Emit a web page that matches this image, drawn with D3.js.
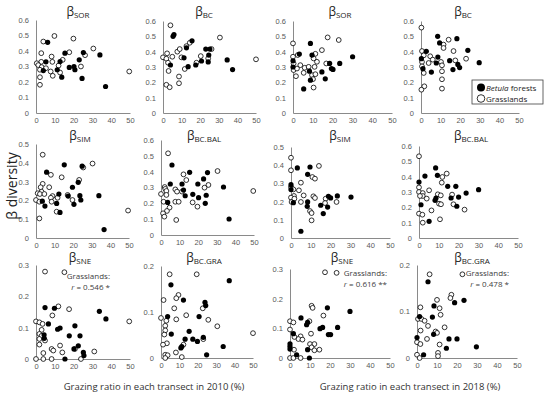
<!DOCTYPE html>
<html>
<head>
<meta charset="utf-8">
<script src="https://cdn.jsdelivr.net/npm/d3@7"></script>
<style>
  body { margin: 0; background: #fff; }
  svg { font-family: "Open Sans", "Liberation Sans", sans-serif; }
</style>
</head>
<body>
<svg id="chart" width="550" height="399"></svg>
<script>
// x = grazing ratio (%), y = beta diversity
var xTicks = [0, 10, 20, 30, 40, 50];
var yTicks06 = [0, 0.1, 0.2, 0.3, 0.4, 0.5, 0.6];
var yTicks05 = [0, 0.1, 0.2, 0.3, 0.4, 0.5];
var yTicks03 = [0, 0.1, 0.2, 0.3];
var yTicks02 = [0, 0.1, 0.2];

// 2010
var sor2010Forest = [[6.2,0.456],[15.4,0.386],[25.2,0.39],[34,0.375],[23,0.343],[12.8,0.332],[5.3,0.33],[3.9,0.274],[11.3,0.279],[17.7,0.294],[20.2,0.30],[20.7,0.279],[13.7,0.231],[24.5,0.223],[37,0.171]];
var sor2010Grass = [[9.8,0.497],[19.9,0.48],[3.9,0.461],[30.5,0.416],[17.7,0.392],[2.8,0.386],[14.2,0.343],[26.1,0.373],[8.3,0.364],[8.7,0.33],[2.8,0.33],[0.4,0.321],[1.2,0.309],[3,0.296],[5.3,0.289],[12,0.306],[2.1,0.279],[7.8,0.268],[12.8,0.261],[23.9,0.30],[8.9,0.24],[2.1,0.231],[2.1,0.182],[49.6,0.268]];
var bc2010Forest = [[5.9,0.512],[5.4,0.50],[15.6,0.471],[23,0.417],[25.2,0.417],[12.6,0.425],[11.3,0.36],[24.6,0.378],[4,0.313],[13.5,0.302],[17.6,0.313],[20.7,0.339],[24.3,0.333],[34.5,0.346],[37.4,0.283]];
var bc2010Grass = [[4,0.572],[30.6,0.492],[5,0.367],[0,0.363],[2.2,0.389],[1.8,0.354],[2.7,0.328],[7.7,0.40],[9,0.417],[14.4,0.458],[12.6,0.436],[20.3,0.371],[24.3,0.356],[26.1,0.417],[9.9,0.363],[18,0.328],[11.7,0.287],[3,0.274],[8.6,0.238],[8.6,0.194],[1.8,0.184],[3.6,0.168],[50,0.35]];
var sim2010Forest = [[15.2,0.389],[24.8,0.382],[5.7,0.35],[22.7,0.296],[19.6,0.27],[33.8,0.225],[23.6,0.225],[12.3,0.234],[17.3,0.223],[24.1,0.202],[3.4,0.196],[11.1,0.184],[20.4,0.179],[4.8,0.17],[12.9,0.136],[36.6,0.045]];
var sim2010Grass = [[3.6,0.443],[30.4,0.396],[25.4,0.375],[8,0.336],[13.8,0.323],[23.2,0.309],[3.6,0.288],[7.1,0.27],[2.5,0.27],[3,0.246],[0.9,0.238],[2.1,0.234],[4.5,0.234],[8.9,0.223],[8,0.214],[17,0.229],[0,0.202],[1.8,0.193],[8.4,0.193],[19.6,0.202],[11.6,0.214],[1.8,0.104],[11.1,0.14],[49.5,0.146]];
var bal2010Forest = [[5.9,0.442],[15.4,0.396],[25,0.394],[22.9,0.354],[5,0.322],[11.3,0.322],[19.8,0.322],[33.6,0.303],[12.1,0.284],[13,0.248],[17.1,0.257],[20.2,0.236],[24.3,0.251],[3.6,0.206],[23.8,0.2],[36.6,0.101]];
var bal2010Grass = [[3.8,0.516],[30.4,0.404],[12.1,0.383],[13.6,0.347],[25.5,0.316],[23.4,0.299],[2,0.303],[2.3,0.291],[2.9,0.278],[2.9,0.253],[7.7,0.288],[8.6,0.274],[11.3,0.274],[0,0.259],[17,0.206],[19.6,0.179],[7.7,0.21],[9.5,0.21],[1.4,0.21],[4.6,0.173],[3.2,0.152],[1.1,0.137],[1.8,0.116],[8.2,0.095],[49.6,0.278]];
var sne2010Forest = [[4.8,0.164],[9.8,0.162],[33.7,0.152],[37.2,0.128],[6.6,0.112],[11.5,0.095],[12.8,0.099],[20.7,0.106],[4.3,0.077],[4.4,0.066],[17.7,0.074],[23.4,0.074],[22.5,0.042],[20.2,0.032],[25.2,0.021],[25.5,0.011],[15.4,0]];
var sne2010Grass = [[4.8,0.279],[15.1,0.277],[11.9,0.168],[17.6,0.159],[8.7,0.139],[0,0.12],[1.8,0.117],[3.5,0.112],[49.6,0.12],[3,0.093],[1.8,0.08],[3,0.074],[1.8,0.064],[4.8,0.059],[1.8,0.046],[12.8,0.043],[8.3,0.032],[3.9,0.019],[9.2,0.027],[14,0.021],[31,0.024],[20.7,0.032],[3.9,0],[8.3,0],[23.9,0],[0,0]];
var gra2010Forest = [[5.4,0.159],[37.1,0.168],[12.2,0.126],[23.9,0.121],[24.3,0.114],[3.6,0.09],[20.7,0.09],[5.6,0.052],[15.3,0.058],[13.1,0.041],[17.3,0.041],[19.8,0.036],[23,0.045],[10.8,0.022],[11.3,0.025],[33.8,0.025],[24.8,0.007]];
var gra2010Grass = [[4.7,0.182],[19.4,0.182],[9.5,0.137],[8.3,0.13],[1.4,0.126],[7.2,0.108],[22.7,0.108],[13.7,0.093],[0,0.087],[8.3,0.084],[2.9,0.081],[25.7,0.083],[2.3,0.07],[30.6,0.069],[2.3,0.06],[1.8,0.051],[50,0.054],[23,0.041],[3.2,0.032],[1.1,0.029],[12.2,0.029],[2.3,0.007],[3.6,0.006],[8.1,0.012],[11.3,0.002],[2.3,0]];

// 2018
var sor2018Forest = [[8.8,0.454],[3.2,0.384],[9.6,0.378],[18.5,0.323],[23.6,0.323],[30.1,0.367],[0,0.34],[0,0.30],[8.3,0.273],[14.6,0.268],[8.8,0.214],[16.3,0.223],[19.4,0.29],[20.2,0.284],[5.4,0.157]];
var sor2018Grass = [[0,0.454],[17.5,0.493],[23.1,0.476],[14.6,0.41],[0,0.367],[2.4,0.378],[11.3,0.386],[12.1,0.334],[10.4,0.356],[16.8,0.323],[3.7,0.312],[5.9,0.295],[0.3,0.323],[0.3,0.28],[2,0.29],[1.5,0.24],[5.4,0.262],[9.6,0.247],[11.3,0.253],[10.1,0.221],[10.4,0.166],[10.9,0.301],[7.9,0.301]];
var bc2018Forest = [[8.5,0.50],[18.3,0.485],[9.5,0.457],[2.7,0.402],[23.9,0.409],[8.6,0.365],[7.8,0.326],[14.6,0.341],[16.3,0.283],[18.8,0.317],[19.7,0.296],[29.7,0.328],[5.3,0.267],[1,0.289],[0.2,0.354]];
var bc2018Grass = [[0.2,0.557],[14.1,0.478],[11.5,0.446],[11.5,0.424],[16.6,0.404],[0.5,0.404],[1.4,0.376],[4.7,0.37],[6,0.348],[3.9,0.326],[10.2,0.333],[10.7,0.311],[17.5,0.343],[23,0.354],[0.5,0.333],[0.5,0.304],[1.4,0.261],[10.7,0.272],[10.7,0.22],[10.7,0.159],[1.7,0.174],[0.2,0.152]];
var sim2018Forest = [[9.6,0.39],[3.2,0.385],[8.4,0.35],[0,0.293],[0,0.266],[1.2,0.194],[8.4,0.198],[8.2,0.174],[18.9,0.229],[20,0.22],[23.4,0.231],[30.3,0.225],[15,0.18],[18.5,0.17],[16.3,0.134],[5,0.037]];
var sim2018Grass = [[0,0.441],[0,0.372],[14.1,0.396],[10.8,0.335],[12.1,0.326],[5,0.304],[0,0.28],[1.2,0.267],[4,0.262],[1.5,0.231],[6.4,0.234],[0,0.222],[0.3,0.198],[5,0.198],[11.3,0.229],[12.1,0.22],[17.5,0.216],[23,0.198],[17.2,0.192],[9.6,0.148],[10.4,0.137],[10.4,0.097],[1.7,0.216]];
var bal2018Forest = [[8.4,0.457],[3,0.404],[9.3,0.409],[14.5,0.337],[18.6,0.337],[30.1,0.315],[23.8,0.293],[20,0.267],[16.2,0.261],[8.6,0.261],[8.1,0.246],[0,0.365],[1,0.217],[19.1,0.207],[5.1,0.109]];
var bal2018Grass = [[0,0.533],[14,0.42],[11.8,0.398],[11.5,0.361],[0,0.33],[5.1,0.311],[0,0.3],[1.9,0.293],[1.9,0.274],[0.5,0.274],[3.9,0.257],[9.5,0.285],[11,0.278],[16.7,0.283],[10.1,0.224],[11.1,0.22],[17.4,0.22],[23,0.185],[6.3,0.18],[0,0.159],[1.7,0.152],[1.9,0.1],[10.6,0.122]];
var sne2018Forest = [[18.7,0.169],[30,0.157],[5.5,0.135],[15,0.099],[16.3,0.103],[23.8,0.103],[8.3,0.112],[8.8,0.12],[1.7,0.082],[19.2,0.079],[20.3,0.079],[0,0.048],[0,0.039],[0,0.03],[8.8,0.028],[3.3,0.011],[9.7,0]];
var sne2018Grass = [[17.5,0.289],[23.3,0.287],[10.8,0.176],[11.3,0.169],[16.7,0.143],[9.7,0.124],[0,0.124],[1.7,0.12],[0,0.096],[10.5,0.082],[5.3,0.073],[4.2,0.064],[6.2,0.062],[2.2,0.071],[10,0.047],[12.2,0.047],[10.8,0.036],[2,0.028],[12.2,0.026],[14.7,0.028],[0,0],[1.7,0],[5.3,0]];
var gra2018Forest = [[5.5,0.164],[18.8,0.119],[23.5,0.124],[8.5,0.112],[1.3,0.089],[7.7,0.088],[8.3,0.051],[0,0.044],[16,0.041],[20,0.041],[14.7,0.021],[29.7,0.024],[3.3,0.007]];
var gra2018Grass = [[6.3,0.18],[22.7,0.18],[17.2,0.136],[16.7,0.129],[10,0.125],[1.7,0.109],[11.3,0.107],[11.8,0.093],[0.5,0.084],[2.2,0.084],[3.8,0.08],[5.5,0.069],[13.8,0.066],[1.8,0.059],[9.3,0.057],[10,0.054],[5,0.041],[11.3,0.029],[0,0.034],[1.7,0.03],[0,0.007],[10.5,0.011],[10.5,0.004],[1.3,0]];

var panels = [
  {sub: "SOR", ticks: yTicks06, forest: sor2010Forest, grass: sor2010Grass, x0: 36, x1: 130, top: 20, bottom: 113, tx: 78, ty: 16},
  {sub: "BC", ticks: yTicks06, forest: bc2010Forest, grass: bc2010Grass, x0: 163, x1: 256, top: 21, bottom: 113, tx: 204, ty: 16},
  {sub: "SOR", ticks: yTicks06, forest: sor2018Forest, grass: sor2018Grass, x0: 293, x1: 392, top: 21, bottom: 113, tx: 340, ty: 16},
  {sub: "BC", ticks: yTicks06, forest: bc2018Forest, grass: bc2018Grass, x0: 421, x1: 519, top: 21, bottom: 113, tx: 463, ty: 16},
  {sub: "SIM", ticks: yTicks05, forest: sim2010Forest, grass: sim2010Grass, x0: 36, x1: 129, top: 144, bottom: 238, tx: 80, ty: 140},
  {sub: "BC.BAL", ticks: yTicks06, forest: bal2010Forest, grass: bal2010Grass, x0: 161, x1: 254, top: 140, bottom: 235, tx: 204, ty: 140},
  {sub: "SIM", ticks: yTicks05, forest: sim2018Forest, grass: sim2018Grass, x0: 291, x1: 390, top: 147, bottom: 238, tx: 340, ty: 140},
  {sub: "BC.BAL", ticks: yTicks06, forest: bal2018Forest, grass: bal2018Grass, x0: 419, x1: 518, top: 146, bottom: 238, tx: 471, ty: 140},
  {sub: "SNE", ticks: yTicks03, forest: sne2010Forest, grass: sne2010Grass, x0: 36, x1: 130, top: 265, bottom: 359, tx: 80, ty: 262,
    note: ["Grasslands:", "0.546 *"], nx: 110, ny: 279},
  {sub: "BC.GRA", ticks: yTicks02, forest: gra2010Forest, grass: gra2010Grass, x0: 161, x1: 253, top: 266, bottom: 358, tx: 204, ty: 262},
  {sub: "SNE", ticks: yTicks03, forest: sne2018Forest, grass: sne2018Grass, x0: 290, x1: 390, top: 269, bottom: 358, tx: 342, ty: 262,
    note: ["Grasslands:", "0.616 **"], nx: 387, ny: 276},
  {sub: "BC.GRA", ticks: yTicks02, forest: gra2018Forest, grass: gra2018Grass, x0: 417, x1: 517, top: 265, bottom: 358, tx: 472, ty: 262,
    note: ["Grasslands:", "0.478 *"], nx: 509, ny: 276}
];

var svg = d3.select("#chart");
var axisColor = "#8a8a8a";
var labelColor = "#595959";

panels.forEach(function (p) {
  var x = d3.scaleLinear().domain([0, 50]).range([p.x0, p.x1]);
  var y = d3.scaleLinear().domain([0, d3.max(p.ticks)]).range([p.bottom, p.top]);
  var g = svg.append("g");

  var xAxis = g.append("g")
    .attr("transform", "translate(0," + p.bottom + ")")
    .call(d3.axisBottom(x).tickValues(xTicks).tickSize(0).tickSizeOuter(0).tickPadding(5).tickFormat(d3.format("d")));
  var yAxis = g.append("g")
    .attr("transform", "translate(" + p.x0 + ",0)")
    .call(d3.axisLeft(y).tickValues(p.ticks).tickSize(0).tickSizeOuter(0).tickPadding(7)
      .tickFormat(function (d) { return d === 0 ? "0" : d3.format(".1f")(d); }));

  [xAxis, yAxis].forEach(function (a) {
    a.select(".domain").attr("stroke", axisColor).attr("stroke-width", 1);
    a.selectAll("text").attr("fill", labelColor).attr("font-size", 7.5);
  });

  g.append("text")
    .attr("x", p.tx)
    .attr("y", p.ty)
    .attr("text-anchor", "middle")
    .attr("fill", "#222")
    .attr("font-size", 12)
    .text("β")
    .append("tspan")
    .attr("font-size", 8)
    .attr("dy", 2)
    .text(p.sub);

  g.selectAll(".grass").data(p.grass).enter()
    .append("circle")
    .attr("cx", function (d) { return x(d[0]); })
    .attr("cy", function (d) { return y(d[1]); })
    .attr("r", 2.4)
    .attr("fill", "#fff")
    .attr("stroke", "#000")
    .attr("stroke-width", 0.8);

  g.selectAll(".forest").data(p.forest).enter()
    .append("circle")
    .attr("cx", function (d) { return x(d[0]); })
    .attr("cy", function (d) { return y(d[1]); })
    .attr("r", 2.6)
    .attr("fill", "#000");

  if (p.note) {
    g.append("text")
      .attr("x", p.nx).attr("y", p.ny)
      .attr("text-anchor", "end")
      .attr("font-size", 8).attr("fill", "#404040")
      .text(p.note[0]);
    var t = g.append("text")
      .attr("x", p.nx).attr("y", p.ny + 11)
      .attr("text-anchor", "end")
      .attr("font-size", 8).attr("fill", "#404040");
    t.append("tspan").attr("font-style", "italic").text("r");
    t.append("tspan").text(" = " + p.note[1]);
  }
});

// y title
svg.append("text")
  .attr("transform", "translate(17,186) rotate(-90)")
  .attr("text-anchor", "middle")
  .attr("font-size", 14)
  .attr("fill", "#222")
  .text("β diversity");

// x titles
svg.append("text")
  .attr("x", 154).attr("y", 390)
  .attr("text-anchor", "middle")
  .attr("font-size", 9.5).attr("fill", "#333")
  .text("Grazing ratio in each transect in 2010 (%)");
svg.append("text")
  .attr("x", 410).attr("y", 390)
  .attr("text-anchor", "middle")
  .attr("font-size", 9.5).attr("fill", "#333")
  .text("Grazing ratio in each transect in 2018 (%)");

// legend
var legend = svg.append("g");
legend.append("rect")
  .attr("x", 472).attr("y", 80).attr("width", 71).attr("height", 24)
  .attr("fill", "#fff").attr("stroke", "#404040").attr("stroke-width", 0.8);
legend.append("circle").attr("cx", 481).attr("cy", 87.5).attr("r", 4).attr("fill", "#000");
legend.append("circle").attr("cx", 481).attr("cy", 98.5).attr("r", 3.8)
  .attr("fill", "#fff").attr("stroke", "#000").attr("stroke-width", 0.8);
var lt = legend.append("text").attr("x", 486).attr("y", 90.5).attr("font-size", 8).attr("fill", "#222");
lt.append("tspan").attr("font-style", "italic").text("Betula");
lt.append("tspan").text(" forests");
legend.append("text").attr("x", 486).attr("y", 101.5).attr("font-size", 8).attr("fill", "#222").text("Grasslands");
</script>
</body>
</html>
